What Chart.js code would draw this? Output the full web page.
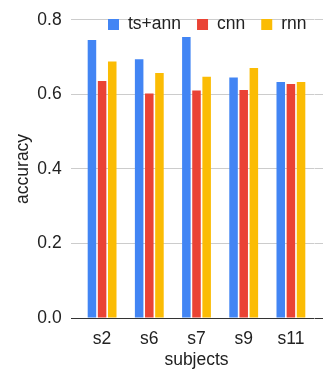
<!DOCTYPE html>
<html>
<head>
<meta charset="utf-8">
<script src="https://cdn.jsdelivr.net/npm/chart.js@4/dist/chart.umd.min.js"></script>
<style>
  html, body { margin: 0; padding: 0; background: #fff; }
  #wrap { width: 333px; height: 371px; }
</style>
</head>
<body>
<div id="wrap"><canvas id="accChart" width="333" height="371"></canvas></div>
<script>
// ── Data ───────────────────────────────────────────────
const subjects = ['s2', 's6', 's7', 's9', 's11'];
const tsAnn = [0.746, 0.694, 0.754, 0.645, 0.633];
const cnn = [0.636, 0.602, 0.610, 0.612, 0.628];
const rnn = [0.688, 0.657, 0.647, 0.671, 0.633];
const seriesNames = ['ts+ann', 'cnn', 'rnn'];
const seriesColors = ['#4285F4', '#EA4335', '#FBBC04'];
const yTicks = [0, 0.2, 0.4, 0.6, 0.8];

const FONT = 'Liberation Sans, Arial, sans-serif';
const FSIZE = 17.5;
const TEXT = '#222222';

function gridColor(ctx) {
    return ctx.tick && ctx.tick.value === 0 ? '#333333' : '#cccccc';
}

// legend drawn inside the plot, like the original
const innerLegend = {
    id: 'innerLegend',
    afterDraw(chart) {
        const c = chart.ctx;
        c.save();
        c.font = FSIZE + 'px ' + FONT;
        c.textBaseline = 'middle';
        let x = 108;
        const y = 24.5;
        chart.data.datasets.forEach(ds => {
            c.fillStyle = ds.backgroundColor;
            c.fillRect(x, y - 5.5, 11, 11);
            c.fillStyle = TEXT;
            c.fillText(ds.label, x + 20, y);
            x += 20 + c.measureText(ds.label).width + 16;
        });
        c.restore();
    }
};

const datasets = [tsAnn, cnn, rnn].map((vals, i) => ({
    label: seriesNames[i],
    data: vals,
    backgroundColor: seriesColors[i],
    borderWidth: 0,
    categoryPercentage: 0.645,
    barPercentage: 0.84
}));

new Chart(document.getElementById('accChart'), {
    type: 'bar',
    data: { labels: subjects, datasets: datasets },
    plugins: [innerLegend],
    options: {
        responsive: false,
        animation: false,
        layout: { padding: { top: 12.7, right: 10, bottom: 0, left: 0 } },
        plugins: {
            legend: { display: false },
            tooltip: { enabled: false }
        },
        scales: {
            x: {
                grid: { display: false },
                border: { display: false },
                ticks: { color: TEXT, font: { family: FONT, size: FSIZE }, padding: 2.8 },
                title: {
                    display: true, text: 'subjects', color: TEXT,
                    font: { family: FONT, size: FSIZE }, padding: { top: 0, bottom: 0 }
                },
                afterFit(scale) { scale.height = 53; }
            },
            y: {
                min: 0, max: 0.8,
                afterBuildTicks(scale) { scale.ticks = yTicks.map(v => ({ value: v })); },
                grid: { color: gridColor, tickLength: 7.5, drawTicks: true },
                border: { display: false },
                ticks: {
                    color: TEXT, font: { family: FONT, size: FSIZE }, padding: 9.3,
                    callback: v => Number(v).toFixed(1)
                },
                title: {
                    display: true, text: 'accuracy', color: TEXT,
                    font: { family: FONT, size: FSIZE }, padding: { top: 12.5, bottom: 12.5 }
                },
                afterFit(scale) { scale.width = 78.5; }
            },
            yRight: {
                position: 'right',
                min: 0, max: 0.8,
                afterBuildTicks(scale) { scale.ticks = yTicks.map(v => ({ value: v })); },
                grid: { color: gridColor, tickLength: 8.5, drawOnChartArea: false },
                border: { display: false },
                ticks: { display: false },
                afterFit(scale) { scale.width = 8.5; }
            }
        }
    }
});
</script>
</body>
</html>
